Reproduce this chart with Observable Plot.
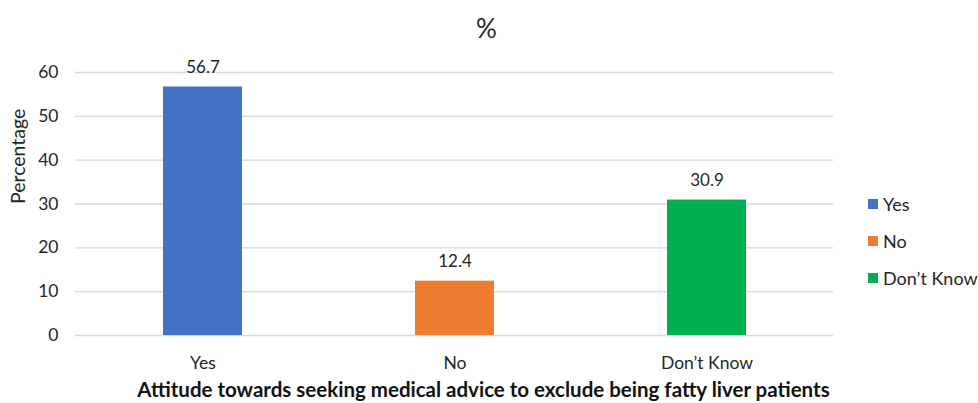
<!DOCTYPE html>
<html>
<head>
<meta charset="utf-8">
<script src="https://cdn.jsdelivr.net/npm/d3@7"></script>
<script src="https://cdn.jsdelivr.net/npm/@observablehq/plot@0.6"></script>
<style>
  html, body { margin: 0; padding: 0; background: #fff; }
  #wrap { position: relative; width: 978px; height: 403px; font-family: Lato, "Open Sans", sans-serif; }
  #legend { position: absolute; left: 868px; top: 185px; font-size: 18px; color: #262626; }
  #legend .item { display: flex; align-items: center; height: 37px; }
  #legend .sw { width: 10px; height: 10px; margin-right: 5px; }
</style>
</head>
<body>
<div id="wrap"></div>
<script>
// Responses and their shares (%)
const categories = ["Yes", "No", "Don\u2019t Know"];
const values = [56.7, 12.4, 30.9];
const colors = ["#4472C4", "#ED7D31", "#00B050"];
const yTicks = [0, 10, 20, 30, 40, 50, 60];

const data = categories.map((c, i) => ({category: c, value: values[i]}));

const chart = Plot.plot({
  width: 978,
  height: 403,
  marginLeft: 75,
  marginRight: 145,
  marginTop: 72,
  marginBottom: 68,
  style: {fontFamily: "Lato, 'Open Sans', sans-serif", fontSize: "17px", color: "#262626", background: "#fff"},
  x: {domain: categories, paddingInner: 0.6875, paddingOuter: 0.34375, label: null},
  y: {domain: [0, 60], label: null},
  color: {domain: categories, range: colors},
  marks: [
    Plot.gridY(yTicks, {stroke: "#d9d9d9", strokeOpacity: 1, strokeWidth: 1.3}),
    Plot.barY(data, {x: "category", y: "value", fill: "category"}),
    Plot.text(data, {x: "category", y: "value", text: d => d.value.toFixed(1), lineAnchor: "bottom", dy: -14, fontSize: 17, fill: "#262626"}),
    Plot.axisY(yTicks, {tickSize: 0, tickPadding: 17, fontSize: 17.5, label: null}),
    Plot.axisX({tickSize: 0, tickPadding: 21, fontSize: 17.5, label: null}),
    Plot.text(["Percentage"], {frameAnchor: "left", dx: -57, rotate: -90, fontSize: 19.5, fill: "#262626"}),
    // chart title and axis title are centred on the full chart width
    Plot.text(["%"], {frameAnchor: "top", dx: 32, dy: -53, fontSize: 26, fill: "#262626"}),
    Plot.text(["Attitude towards seeking medical advice to exclude being fatty liver patients"], {frameAnchor: "bottom", dx: 29, dy: 61, fontSize: 20.5, fontWeight: "bold", fill: "#111"})
  ]
});

const wrap = document.getElementById("wrap");
wrap.appendChild(chart);

const legend = document.createElement("div");
legend.id = "legend";
categories.forEach((c, i) => {
  const item = document.createElement("div");
  item.className = "item";
  const sw = document.createElement("span");
  sw.className = "sw";
  sw.style.background = colors[i];
  const label = document.createElement("span");
  label.textContent = c;
  item.appendChild(sw);
  item.appendChild(label);
  legend.appendChild(item);
});
wrap.appendChild(legend);
</script>
</body>
</html>
